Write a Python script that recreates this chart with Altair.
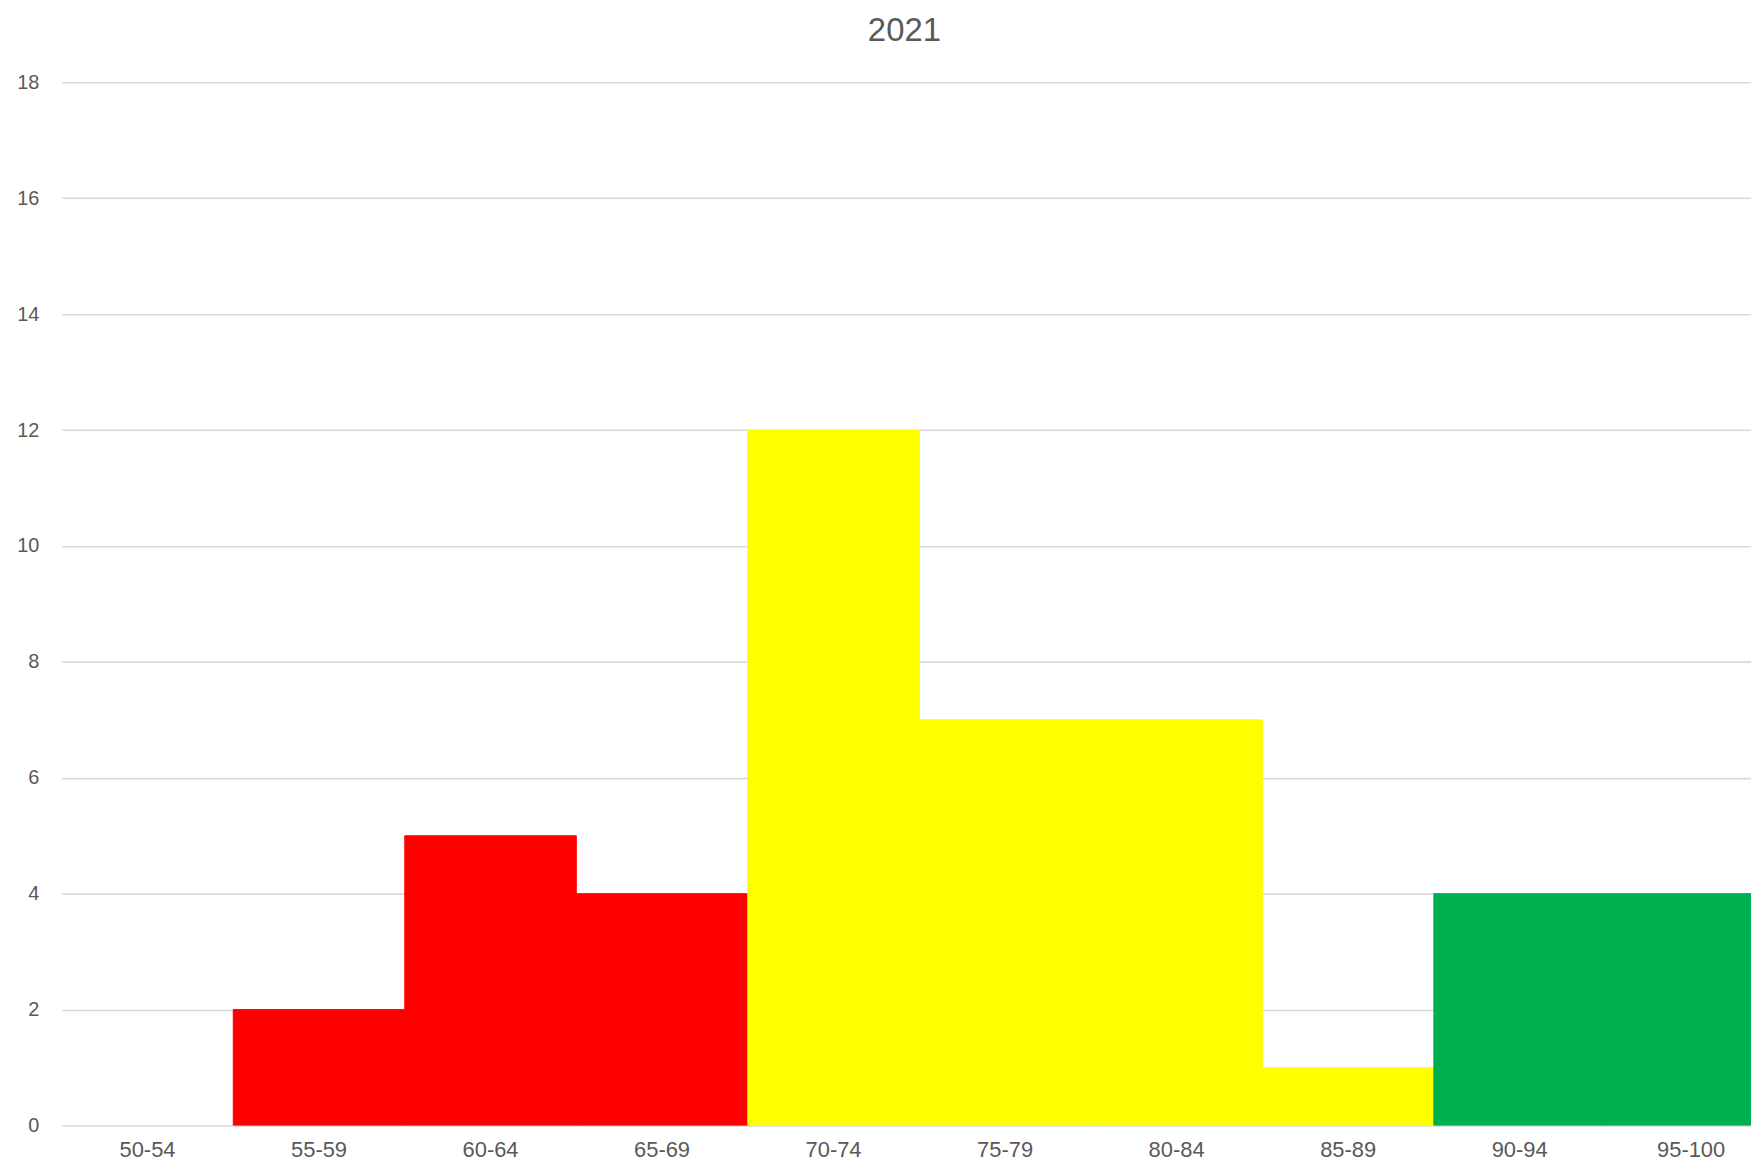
import altair as alt
import pandas as pd

categories = ["50-54", "55-59", "60-64", "65-69", "70-74", "75-79", "80-84", "85-89", "90-94", "95-100"]
counts = [0, 2, 5, 4, 12, 7, 7, 1, 4, 4]
groups = ["low", "low", "low", "low", "mid", "mid", "mid", "mid", "high", "high"]
y_ticks = [0, 2, 4, 6, 8, 10, 12, 14, 16, 18]

df = pd.DataFrame({"range": categories, "count": counts, "group": groups})

FONT = "Liberation Sans"
TXT = "#595959"
color_scale = alt.Scale(domain=["low", "mid", "high"], range=["#FF0000", "#FFFF00", "#00B050"])

chart = (
    alt.Chart(df)
    .mark_bar(clip=True, strokeWidth=1)
    .encode(
        x=alt.X(
            "range:N",
            sort=categories,
            scale=alt.Scale(range=[0, 1723], paddingInner=0, paddingOuter=0),
            axis=alt.Axis(
                title=None,
                labelAngle=0,
                ticks=False,
                domain=False,
                grid=False,
                labelFont=FONT,
                labelFontSize=22,
                labelColor=TXT,
                labelPadding=14,
            ),
        ),
        y=alt.Y(
            "count:Q",
            scale=alt.Scale(domain=[0, 18], nice=False),
            axis=alt.Axis(
                title=None,
                values=y_ticks,
                ticks=False,
                domain=False,
                grid=True,
                gridColor="#D9D9D9",
                gridWidth=1.6,
                labelFont=FONT,
                labelFontSize=20,
                labelColor=TXT,
                labelPadding=23,
            ),
        ),
        color=alt.Color("group:N", scale=color_scale, legend=None),
        stroke=alt.condition(
            "datum.count > 0",
            alt.Stroke("group:N", scale=color_scale, legend=None),
            alt.value("transparent"),
        ),
    )
    .properties(
        width=1697,
        height=1048,
        title=alt.TitleParams(
            "2021",
            font=FONT,
            fontSize=33,
            fontWeight="normal",
            color=TXT,
            anchor="middle",
            frame="group",
            dx=-2,
            offset=25,
        ),
        padding={"left": 54, "top": 72, "right": 0, "bottom": 37},
        autosize=alt.AutoSizeParams(type="none"),
    )
    .configure_view(stroke=None)
)

chart.save("out.html", embed_options={"renderer": "svg", "actions": False})
